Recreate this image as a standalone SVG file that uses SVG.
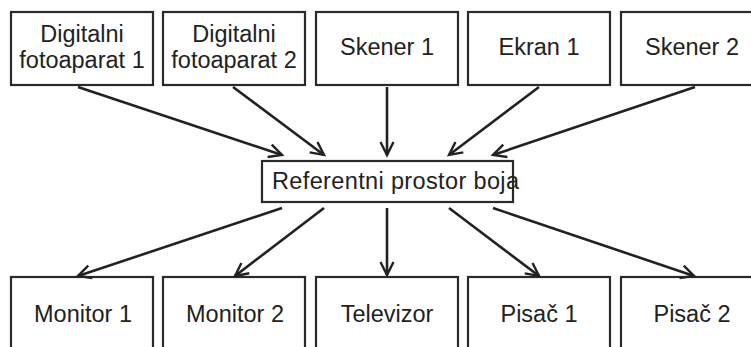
<svg xmlns="http://www.w3.org/2000/svg" width="751" height="347" viewBox="0 0 751 347">
<style>
  .box { fill: #ffffff; stroke: #2a2a2a; stroke-width: 2.2; }
  .lbl { font-family: "Liberation Sans", Arial, sans-serif; font-size: 23.5px; fill: #222222; text-anchor: middle; }
  .conn line { stroke: #222222; stroke-width: 2.6; marker-end: url(#arr); }
</style>
<defs>
  <marker id="arr" markerUnits="userSpaceOnUse" markerWidth="20" markerHeight="20" viewBox="-16 -10 20 20" refX="0" refY="0" orient="auto">
    <path d="M-13,-6.5 L0,0 L-13,6.5" fill="none" stroke="#222222" stroke-width="2.4"/>
  </marker>
</defs>
<rect width="751" height="347" fill="#ffffff"/>

<g id="n-foto1"><rect class="box" x="11" y="12" width="142" height="73"/><text class="lbl" x="82" y="42">Digitalni</text><text class="lbl" x="82" y="68">fotoaparat 1</text></g>
<g id="n-foto2"><rect class="box" x="163" y="12" width="142" height="73"/><text class="lbl" x="234" y="42">Digitalni</text><text class="lbl" x="234" y="68">fotoaparat 2</text></g>
<g id="n-skener1"><rect class="box" x="316" y="12" width="142" height="73"/><text class="lbl" x="387" y="55">Skener 1</text></g>
<g id="n-ekran1"><rect class="box" x="468" y="12" width="142" height="73"/><text class="lbl" x="539" y="55">Ekran 1</text></g>
<g id="n-skener2"><rect class="box" x="621" y="12" width="142" height="73"/><text class="lbl" x="692" y="55">Skener 2</text></g>

<g id="n-ref"><rect class="box" x="262" y="161" width="251" height="41"/><text class="lbl" x="272" y="189" style="text-anchor:start" textLength="247" lengthAdjust="spacing">Referentni prostor boja</text></g>

<g id="n-monitor1"><rect class="box" x="11" y="277" width="142" height="73"/><text class="lbl" x="83" y="322">Monitor 1</text></g>
<g id="n-monitor2"><rect class="box" x="163" y="277" width="142" height="73"/><text class="lbl" x="235" y="322">Monitor 2</text></g>
<g id="n-tv"><rect class="box" x="316" y="277" width="142" height="73"/><text class="lbl" x="387" y="322">Televizor</text></g>
<g id="n-pisac1"><rect class="box" x="468" y="277" width="142" height="73"/><text class="lbl" x="539" y="322">Pisač 1</text></g>
<g id="n-pisac2"><rect class="box" x="621" y="277" width="142" height="73"/><text class="lbl" x="692" y="322">Pisač 2</text></g>

<g id="connectors" class="conn">
  <line x1="78" y1="87" x2="282" y2="155"/>
  <line x1="233" y1="87" x2="324" y2="155"/>
  <line x1="387" y1="87" x2="387" y2="155"/>
  <line x1="539" y1="87" x2="449" y2="155"/>
  <line x1="695" y1="87" x2="493" y2="155"/>
  <line x1="282" y1="208" x2="78" y2="276"/>
  <line x1="324" y1="208" x2="235" y2="276"/>
  <line x1="387" y1="208" x2="387" y2="275"/>
  <line x1="449" y1="208" x2="539" y2="276"/>
  <line x1="493" y1="208" x2="694" y2="276"/>
</g>
</svg>
